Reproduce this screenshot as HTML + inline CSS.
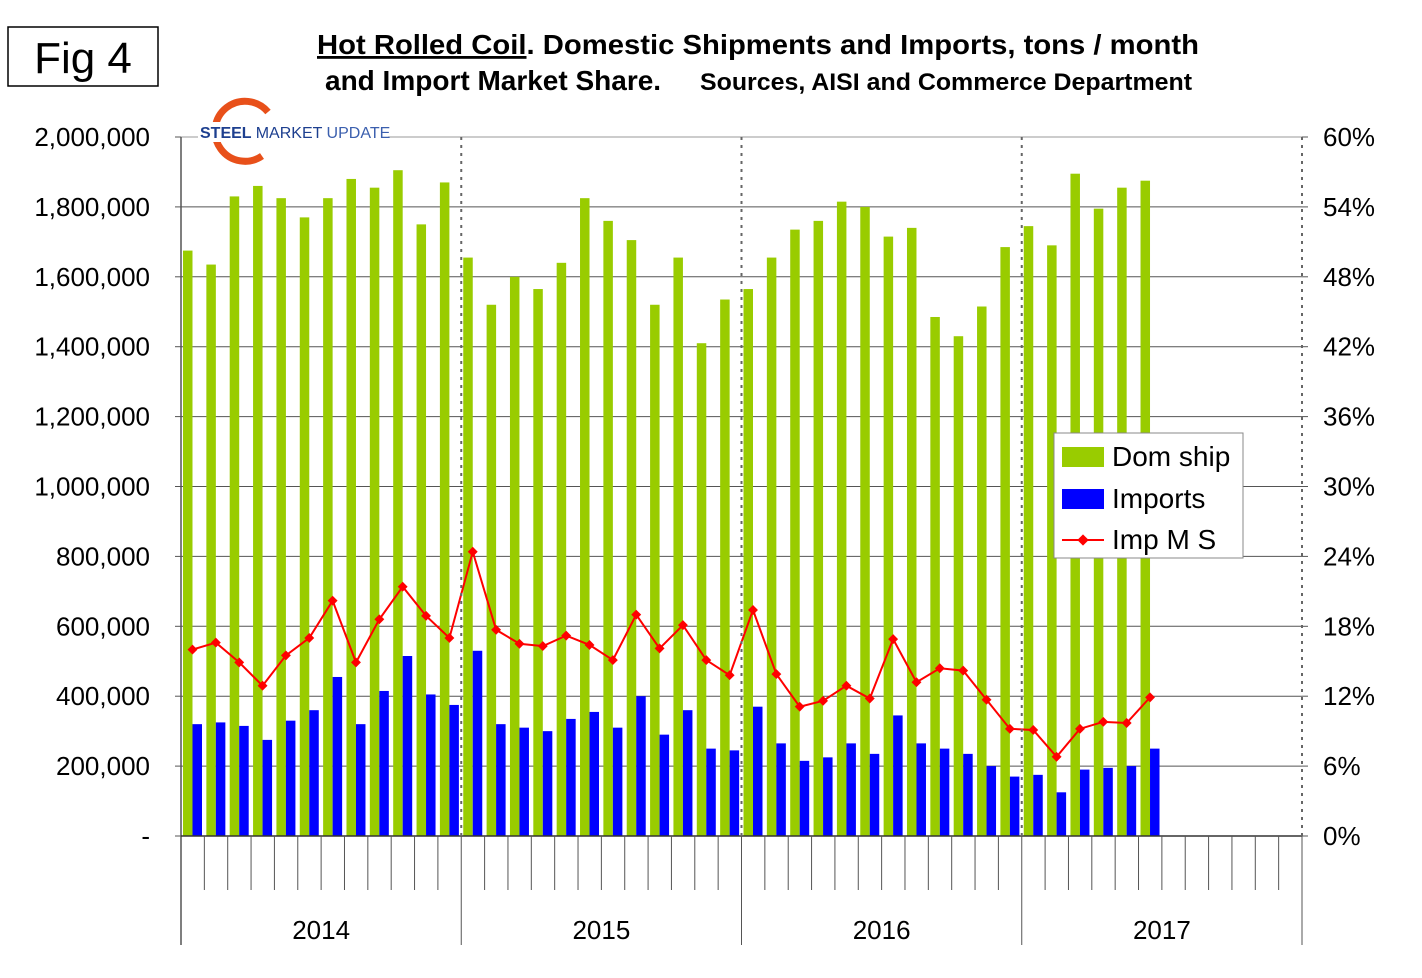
<!DOCTYPE html>
<html><head><meta charset="utf-8"><style>
body{margin:0;background:#fff;width:1422px;height:973px;overflow:hidden;font-family:"Liberation Sans",Arial,sans-serif}
</style></head><body>
<svg id="c" width="1422" height="973" xmlns="http://www.w3.org/2000/svg">
<rect x="8" y="27" width="150" height="59" fill="#fff" stroke="#000" stroke-width="1.5"/>
<text x="83" y="73" font-size="44" text-anchor="middle">Fig 4</text>
<text x="758" y="54" font-size="28" font-weight="bold" text-anchor="middle" textLength="882" lengthAdjust="spacingAndGlyphs"><tspan text-decoration="underline">Hot Rolled Coil</tspan>. Domestic Shipments and Imports, tons / month</text>
<text x="325" y="90" font-size="28" font-weight="bold">and Import Market Share.</text>
<text x="700" y="90" font-size="24" font-weight="bold" textLength="492" lengthAdjust="spacingAndGlyphs">Sources, AISI and Commerce Department</text>
<g id="grid"></g><g id="bars"></g><g id="line"></g><g id="axes"></g>
<g>
<path d="M268,112 A30,30 0 1 0 262,156" fill="none" stroke="#e8501a" stroke-width="7"/>
<rect x="198" y="122" width="190" height="20" fill="#fff"/>
<text x="200" y="138" font-size="16" font-weight="bold" fill="#1d3f8f">STEEL <tspan font-weight="normal" fill="#1d3f8f">MARKET</tspan><tspan font-weight="normal" fill="#3b5fae"> UPDATE</tspan></text>
</g>
<g>
<rect x="1054" y="433" width="189" height="125" fill="#fff" stroke="#888"/>
<rect x="1062" y="447" width="42" height="20" fill="#99cc00"/>
<text x="1112" y="466" font-size="28">Dom ship</text>
<rect x="1062" y="489" width="42" height="20" fill="#0000ff"/>
<text x="1112" y="508" font-size="28">Imports</text>
<line x1="1062" y1="540" x2="1104" y2="540" stroke="#ff0000" stroke-width="2"/>
<rect x="1079" y="536" width="8" height="8" fill="#ff0000" transform="rotate(45 1083 540)"/>
<text x="1112" y="549" font-size="28">Imp M S</text>
</g>
</svg>
<script>
const years=['2014','2015','2016','2017'];
const domShip=[1675,1635,1830,1860,1825,1770,1825,1880,1855,1905,1750,1870,
1655,1520,1600,1565,1640,1825,1760,1705,1520,1655,1410,1535,
1565,1655,1735,1760,1815,1800,1715,1740,1485,1430,1515,1685,
1745,1690,1895,1795,1855,1875];
const imports=[320,325,315,275,330,360,455,320,415,515,405,375,
530,320,310,300,335,355,310,400,290,360,250,245,
370,265,215,225,265,235,345,265,250,235,200,170,
175,125,190,195,200,250];
const impShare=[16,16.6,14.9,12.9,15.5,17,20.2,14.9,18.6,21.4,18.9,17,
24.4,17.7,16.5,16.3,17.2,16.4,15.1,19,16.1,18.1,15.1,13.8,
19.4,13.9,11.1,11.6,12.9,11.8,16.9,13.2,14.4,14.2,11.7,9.2,
9.1,6.8,9.2,9.8,9.7,11.9];
const leftTicks=['-','200,000','400,000','600,000','800,000','1,000,000','1,200,000','1,400,000','1,600,000','1,800,000','2,000,000'];
const rightTicks=['0%','6%','12%','18%','24%','30%','36%','42%','48%','54%','60%'];
const X0=181,X1=1302,Y0=836,Y1=137,NM=48,mw=(X1-X0)/NM;
const yL=v=>Y0-v*1000/2000000*(Y0-Y1);
const yR=p=>Y0-p/60*(Y0-Y1);
const xM=i=>X0+i*mw;
const NS='http://www.w3.org/2000/svg';
function mk(p,t,a){const e=document.createElementNS(NS,t);for(const k in a)e.setAttribute(k,a[k]);document.getElementById(p).appendChild(e);return e;}
for(let i=0;i<leftTicks.length;i++){const y=Y0-i*(Y0-Y1)/10;
 if(i>0){const g=mk('grid','line',{x1:X0,x2:X1,y1:y,y2:y,stroke:i==10?'#999':'#555','stroke-width':1});
 
 }
 const t=mk('axes','text',{x:150,y:y+9,'font-size':26,'text-anchor':'end'});t.textContent=leftTicks[i];
 
 
 const r=mk('axes','text',{x:1323,y:y+9,'font-size':26});r.textContent=rightTicks[i];
 
 
 mk('axes','line',{x1:X0-6,x2:X0,y1:y,y2:y,stroke:'#555'});mk('axes','line',{x1:X1,x2:X1+6,y1:y,y2:y,stroke:'#555'});
}
mk('axes','line',{x1:X0,x2:X0,y1:Y1,y2:945,stroke:'#555','stroke-width':1.5});
mk('axes','line',{x1:X0,x2:X1,y1:Y0,y2:Y0,stroke:'#333','stroke-width':1.5});
for(let i=1;i<NM;i++){const x=xM(i);
 if(i%12==0){mk('axes','line',{x1:x,x2:x,y1:Y1,y2:Y0,stroke:'#666','stroke-width':2,'stroke-dasharray':'3,5'});mk('axes','line',{x1:x,x2:x,y1:Y0,y2:945,stroke:'#555'});}
 else mk('axes','line',{x1:x,x2:x,y1:Y0,y2:890,stroke:'#555'});}
mk('axes','line',{x1:X1,x2:X1,y1:Y1,y2:Y0,stroke:'#666','stroke-width':2,'stroke-dasharray':'3,5'});
mk('axes','line',{x1:X1,x2:X1,y1:Y0,y2:945,stroke:'#555'});
years.forEach((yr,k)=>{const t=mk('axes','text',{x:X0+(k*12+6)*mw,y:939,'font-size':26,'text-anchor':'middle'});t.textContent=yr;
 
 });
domShip.forEach((v,i)=>{const b=mk('bars','rect',{x:xM(i)+2,y:yL(v),width:9.5,height:Y0-yL(v),fill:'#99cc00'});
 
 });
imports.forEach((v,i)=>{const b=mk('bars','rect',{x:xM(i)+11.5,y:yL(v),width:9.5,height:Y0-yL(v),fill:'#0000ff'});
 
 });
const pts=impShare.map((p,i)=>(xM(i)+11.5)+','+yR(p)).join(' ');
const pl=mk('line','polyline',{points:pts,fill:'none',stroke:'#ff0000','stroke-width':2});


impShare.forEach((p,i)=>{const x=xM(i)+11.5,y=yR(p);const m=mk('line','rect',{x:x-3.5,y:y-3.5,width:7,height:7,fill:'#ff0000',transform:`rotate(45 ${x} ${y})`});
 
 });
</script>
</body></html>
